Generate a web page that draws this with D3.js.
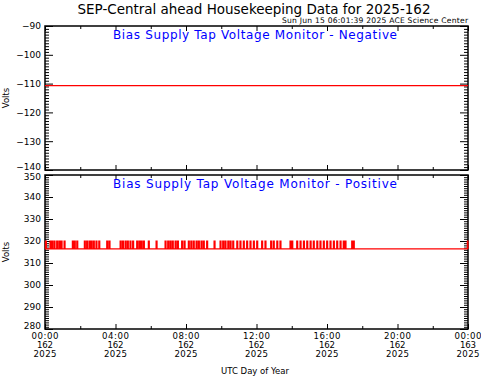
<!DOCTYPE html>
<html>
<head>
<meta charset="utf-8">
<script src="https://cdn.jsdelivr.net/npm/d3@7"></script>
<style>
  body { margin: 0; background: #fff; }
  svg { display: block; font-family: "DejaVu Sans", Arial, sans-serif; }
</style>
</head>
<body>
<div id="chart"></div>
<script>
// hours of day 162 (2025)
var xDomain = [0, 24];
var xTickHours = [0, 4, 8, 12, 16, 20, 24];
var xTickTime = ["00:00", "04:00", "08:00", "12:00", "16:00", "20:00", "00:00"];
var xTickDay = ["162", "162", "162", "162", "162", "162", "163"];
var xTickYear = ["2025", "2025", "2025", "2025", "2025", "2025", "2025"];
var xMinorHours = [2, 6, 10, 14, 18, 22];

// negative monitor: flat all day
var negTimes = [0, 24];
var negValues = [-110.7, -110.7];
var negTicks = [-90, -100, -110, -120, -130, -140];

// positive monitor: base level with short jumps to 320 V
var posBase = 316.4;
var posSpike = 320;
var posSpikeHours = [0.02, 0.28, 0.38, 0.51, 0.66, 0.79, 0.91, 1.08, 1.55, 1.66, 1.80,
    2.23, 2.36, 2.50, 2.61, 2.74, 2.89, 3.05, 3.50, 3.63, 4.26, 4.39, 4.54, 4.67,
    4.82, 4.97, 5.20, 5.33, 5.45, 5.58, 5.86, 6.30, 6.81, 6.96, 7.09, 7.22, 7.38,
    7.51, 7.75, 7.89, 8.13, 8.27, 8.41, 8.57, 8.70, 8.85, 8.98, 9.17, 9.59, 9.93,
    10.08, 10.21, 10.37, 10.50, 10.65, 10.88, 11.06, 11.25, 11.44, 11.63, 11.82,
    12.01, 12.29, 12.48, 12.80, 12.95, 13.15, 13.33, 13.90, 14.00, 14.28, 14.47,
    14.66, 14.85, 15.04, 15.22, 15.42, 15.60, 15.79, 15.98, 16.17, 16.36, 16.55,
    16.74, 16.92, 17.02, 17.40, 17.49, 23.96];
var posTicks = [350, 340, 330, 320, 310, 300, 290, 280];

var W = 481, H = 377;
var left = 45, right = 468;
var panels = [{
    name: "Bias Supply Tap Voltage Monitor - Negative",
    top: 26, bottom: 170, domain: [-140, -90], ticks: negTicks
}, {
    name: "Bias Supply Tap Voltage Monitor - Positive",
    top: 175, bottom: 329, domain: [280, 350], ticks: posTicks
}];

var svg = d3.select("#chart").append("svg")
    .attr("width", W)
    .attr("height", H);

var x = d3.scaleLinear().domain(xDomain).range([left, right]);

svg.append("text")
    .attr("x", 254)
    .attr("y", 14)
    .attr("text-anchor", "middle")
    .attr("font-size", 13.5)
    .attr("textLength", 353)
    .text("SEP-Central ahead Housekeeping Data for 2025-162");

svg.append("text")
    .attr("x", right)
    .attr("y", 23)
    .attr("text-anchor", "end")
    .attr("font-size", 7.6)
    .attr("textLength", 186)
    .text("Sun Jun 15 06:01:39 2025 ACE Science Center");

function minorValues(domain) {
    var out = [];
    for (var v = domain[0]; v <= domain[1]; v++) {
        if (v % 10 !== 0) out.push(v);
    }
    return out;
}

function drawPanel(p, i) {
    var y = d3.scaleLinear().domain(p.domain).range([p.bottom, p.top]);
    var g = svg.append("g");

    // y axes, ticks pointing inward (IDL style)
    var minor = minorValues(p.domain);
    g.append("g").attr("transform", "translate(" + left + ",0)")
        .call(d3.axisLeft(y).tickValues(minor).tickSize(-4).tickFormat(""));
    var major = g.append("g").attr("transform", "translate(" + left + ",0)")
        .call(d3.axisLeft(y).tickValues(p.ticks).tickSize(-8).tickPadding(4)
            .tickFormat(d3.format("d")));
    // end labels pulled inside the frame, as in the original plot
    major.selectAll(".tick text")
        .filter(d => d === p.domain[0])
        .attr("dy", "-0.05em");
    if (i === 1) {
        major.selectAll(".tick text")
            .filter(d => d === p.domain[1])
            .attr("dy", "0.55em");
    }
    g.append("g").attr("transform", "translate(" + right + ",0)")
        .call(d3.axisRight(y).tickValues(minor).tickSize(-4).tickFormat(""));
    g.append("g").attr("transform", "translate(" + right + ",0)")
        .call(d3.axisRight(y).tickValues(p.ticks).tickSize(-8).tickFormat(""));

    // x ticks on top and bottom edges
    [p.top, p.bottom].forEach(function(yy, k) {
        var ax = k === 0 ? d3.axisTop : d3.axisBottom;
        g.append("g").attr("transform", "translate(0," + yy + ")")
            .call(ax(x).tickValues(xMinorHours).tickSize(-3).tickFormat(""));
        g.append("g").attr("transform", "translate(0," + yy + ")")
            .call(ax(x).tickValues(xTickHours).tickSize(-5).tickFormat(""));
    });

    g.selectAll(".domain").remove();
    g.selectAll(".tick line").attr("stroke", "#000");
    g.selectAll(".tick text").attr("font-size", 9).attr("fill", "#000")
        .attr("font-family", "DejaVu Sans, Arial, sans-serif");

    g.append("rect")
        .attr("x", left)
        .attr("y", p.top)
        .attr("width", right - left)
        .attr("height", p.bottom - p.top)
        .attr("fill", "none")
        .attr("stroke", "#000")
        .attr("stroke-width", 1.5);

    g.append("text")
        .attr("transform", "translate(9," + (p.top + p.bottom) / 2 + ") rotate(-90)")
        .attr("text-anchor", "middle")
        .attr("font-size", 8.5)
        .text("Volts");

    g.append("text")
        .attr("x", 255)
        .attr("y", p.top + 13)
        .attr("text-anchor", "middle")
        .attr("font-size", 12)
        .attr("textLength", 284)
        .attr("fill", "#0000ff")
        .text(p.name);

    return y;
}

var yNeg = drawPanel(panels[0], 0);
var yPos = drawPanel(panels[1], 1);

var line = function(ys) {
    return d3.line()
        .x(d => x(d[0]))
        .y(d => ys(d[1]))
        .curve(d3.curveStepAfter);
};

var negData = negTimes.map((t, i) => [t, negValues[i]]);
svg.append("path")
    .attr("d", line(yNeg)(negData))
    .attr("stroke", "#ff0000")
    .attr("stroke-width", 1.3)
    .attr("fill", "none");

// step series: rise to 320 at each spike, back to base one sample later
var posData = [[0, posBase]];
posSpikeHours.forEach(function(t) {
    posData.push([t, posSpike]);
    posData.push([Math.min(t + 0.06, 24), posBase]);
});
posData.push([24, posBase]);
svg.append("path")
    .attr("d", line(yPos)(posData))
    .attr("stroke", "#ff0000")
    .attr("stroke-width", 1.1)
    .attr("fill", "none");

// x tick labels (three lines)
var labelWidth = {3: 16, 4: 23, 5: 27};
var lab = svg.append("g").attr("font-size", 8.6).attr("text-anchor", "middle");
xTickHours.forEach(function(h, i) {
    [xTickTime[i], xTickDay[i], xTickYear[i]].forEach(function(s, k) {
        lab.append("text")
            .attr("x", x(h))
            .attr("y", 338.5 + k * 9)
            .attr("textLength", labelWidth[s.length])
            .text(s);
    });
});

svg.append("text")
    .attr("x", 255)
    .attr("y", 374)
    .attr("text-anchor", "middle")
    .attr("font-size", 8.5)
    .text("UTC Day of Year");
</script>
</body>
</html>
